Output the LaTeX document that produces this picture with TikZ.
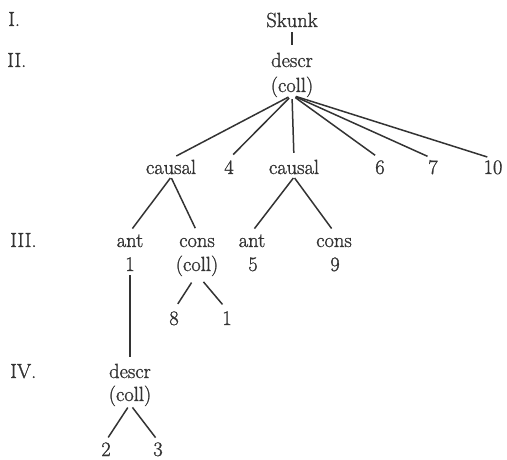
\documentclass[tikz,border=0pt]{standalone}
\usepackage{fontspec}
\setmainfont{Latin Modern Roman}[FakeBold=1.2]
\definecolor{ink}{HTML}{333333}
\begin{document}
\begin{tikzpicture}[x=1pt,y=-1pt,
  lbl/.style={inner sep=0pt, text height=15pt, text depth=3pt,
    font=\fontsize{20.5}{24}\selectfont, text=ink, anchor=base},
  lvl/.style={lbl, anchor=base west},
  edge/.style={draw=ink, line width=1.5pt}]
\useasboundingbox (0,0) rectangle (507,460);

% level labels
\node[lvl] (lI)   at (8,26)   {I.};
\node[lvl] (lII)  at (7,67)   {II.};
\node[lvl] (lIII) at (10,247) {III.};
\node[lvl] (lIV)  at (10,378) {IV.};

% root
\node[lbl] (skunk) at (292,27) {Skunk};
\node[lbl] (d0) at (292,67) {descr};
\node[lbl] (c0) at (292,92) {(coll)};

% level II children
\node[lbl] (k1)    at (171,174) {causal};
\node[lbl] (four)  at (229,174) {4};
\node[lbl] (k2)    at (294,174) {causal};
\node[lbl] (six)   at (380,174) {6};
\node[lbl] (seven) at (433,174) {7};
\node[lbl] (ten)   at (493,174) {10};

% level III
\node[lbl] (ant1)  at (130,247) {ant};
\node[lbl] (cons1) at (197,247) {cons};
\node[lbl] (ant2)  at (252,247) {ant};
\node[lbl] (cons2) at (334,247) {cons};
\node[lbl] (one1)  at (130,271) {1};
\node[lbl] (coll1) at (197,271) {(coll)};
\node[lbl] (five)  at (253,271) {5};
\node[lbl] (nine)  at (335,271) {9};
\node[lbl] (eight) at (174,325) {8};
\node[lbl] (oneb)  at (227,325) {1};

% level IV
\node[lbl] (d4) at (130,378) {descr};
\node[lbl] (c4) at (130,401) {(coll)};
\node[lbl] (two)   at (106,456) {2};
\node[lbl] (three) at (158,456) {3};

% connectors
\draw[edge, shorten <=2pt, shorten >=7pt] (skunk) -- (d0);
\foreach \c in {k1,four,k2,six,seven,ten}
  \draw[edge, shorten <=4pt, shorten >=6pt] (c0.south) -- (\c.north);
\foreach \c in {ant1,cons1}
  \draw[edge, shorten <=1pt, shorten >=4pt] (k1.south) -- (\c.north);
\foreach \c in {ant2,cons2}
  \draw[edge, shorten <=1pt, shorten >=4pt] (k2.south) -- (\c.north);
\foreach \c in {eight,oneb}
  \draw[edge, shorten <=10pt, shorten >=7pt] (coll1.south) -- (\c.north);
\draw[edge, shorten <=1pt, shorten >=6pt] (one1) -- (d4);
\foreach \c in {two,three}
  \draw[edge, shorten <=4pt, shorten >=4pt] (c4.south) -- (\c.north);
\end{tikzpicture}
\end{document}
